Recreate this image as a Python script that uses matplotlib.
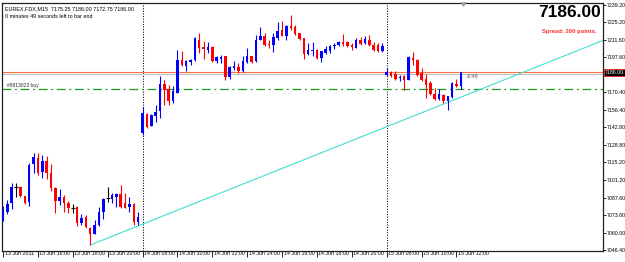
import matplotlib
matplotlib.use('Agg')
import matplotlib.pyplot as plt
import matplotlib.transforms as mtrans

# EUREX.FDX M15, bars 13 Jun 14:00 .. 15 Jun 12:15
opens = [7070.0, 7076.3, 7083.3, 7096.2, 7096.2, 7088.8, 7084.4, 7114.0, 7118.5, 7108.0,
         7116.4, 7106.7, 7094.9, 7084.9, 7088.3, 7083.6, 7079.2, 7079.9, 7067.4, 7072.1,
         7063.4, 7058.9, 7066.0, 7076.5, 7087.0, 7086.3, 7088.3, 7090.2, 7083.1, 7080.4,
         7082.6, 7068.6, 7138.2, 7153.4, 7143.9, 7151.8, 7155.2, 7177.0, 7172.8, 7163.1,
         7170.1, 7195.9, 7191.2, 7193.8, 7195.3, 7211.1, 7205.6, 7203.7, 7205.9, 7194.5,
         7196.4, 7198.5, 7182.3, 7189.3, 7190.1, 7186.7, 7193.8, 7198.5, 7194.5, 7211.6,
         7214.8, 7208.2, 7207.7, 7213.0, 7219.5, 7214.8, 7222.1, 7221.6, 7216.9, 7213.0,
         7200.6, 7202.4, 7203.7, 7197.2, 7201.2, 7202.4, 7206.3, 7207.7, 7209.5, 7209.5,
         7207.7, 7205.1, 7211.6, 7209.0, 7211.1, 7207.7, 7207.7, 7202.4, 7184.1, 7185.9,
         7184.9, 7181.2, 7182.7, 7180.1, 7197.2, 7195.9, 7185.4, 7180.7, 7177.5, 7169.1,
         7165.0, 7168.3, 7163.1, 7166.5, 7177.0, 7175.25]
highs = [7081.0, 7085.7, 7099.1, 7099.3, 7096.7, 7088.8, 7114.8, 7122.9, 7122.7, 7121.1,
         7120.3, 7114.0, 7096.2, 7094.4, 7089.6, 7085.2, 7082.6, 7081.0, 7074.7, 7073.9,
         7064.7, 7070.0, 7080.4, 7087.3, 7096.2, 7091.2, 7091.2, 7097.5, 7091.2, 7088.3,
         7083.1, 7076.5, 7159.1, 7153.9, 7153.1, 7160.5, 7183.3, 7180.1, 7176.2, 7175.4,
         7203.2, 7202.4, 7195.9, 7196.4, 7213.7, 7216.9, 7210.3, 7209.5, 7206.3, 7199.0,
         7199.8, 7199.0, 7190.6, 7195.1, 7193.3, 7199.0, 7205.1, 7199.0, 7215.6, 7221.6,
         7216.9, 7211.1, 7216.9, 7225.2, 7226.0, 7223.4, 7231.3, 7223.4, 7216.9, 7213.0,
         7209.0, 7209.5, 7204.3, 7202.4, 7206.9, 7207.7, 7209.0, 7210.3, 7216.1, 7210.3,
         7209.0, 7213.0, 7213.7, 7214.2, 7215.6, 7209.5, 7209.0, 7209.0, 7189.3, 7187.2,
         7186.7, 7184.1, 7184.1, 7198.5, 7201.6, 7196.4, 7189.3, 7184.9, 7178.8, 7173.6,
         7172.8, 7169.1, 7167.5, 7178.0, 7180.7, 7186.00]
lows = [7069.2, 7074.7, 7078.6, 7088.3, 7088.1, 7082.6, 7081.2, 7106.7, 7105.4, 7103.0,
        7102.2, 7093.0, 7075.7, 7081.8, 7076.5, 7075.2, 7075.2, 7065.2, 7066.0, 7063.4,
        7050.3, 7058.7, 7065.2, 7070.5, 7084.4, 7083.3, 7080.4, 7079.4, 7079.2, 7076.5,
        7066.0, 7066.0, 7136.9, 7142.1, 7143.4, 7147.3, 7150.0, 7160.5, 7160.5, 7161.8,
        7169.7, 7190.6, 7186.7, 7191.9, 7194.5, 7201.2, 7196.4, 7201.2, 7193.8, 7193.3,
        7193.3, 7179.6, 7180.7, 7188.0, 7185.4, 7185.9, 7193.3, 7193.3, 7193.8, 7211.1,
        7206.3, 7205.1, 7201.6, 7211.6, 7214.2, 7211.6, 7219.5, 7215.6, 7211.6, 7196.4,
        7199.8, 7199.0, 7196.4, 7193.8, 7200.6, 7201.2, 7204.3, 7206.3, 7206.3, 7205.9,
        7203.7, 7205.1, 7207.7, 7208.5, 7206.9, 7202.4, 7201.6, 7201.6, 7183.3, 7182.3,
        7180.1, 7178.8, 7171.7, 7180.1, 7191.9, 7183.3, 7178.8, 7165.7, 7168.3, 7164.4,
        7164.4, 7161.8, 7156.5, 7165.7, 7174.4, 7172.75]
closes = [7077.8, 7082.6, 7096.0, 7096.2, 7088.8, 7083.6, 7113.2, 7119.3, 7106.7, 7116.6,
          7106.9, 7094.9, 7084.9, 7087.8, 7083.6, 7079.6, 7079.2, 7067.4, 7071.3, 7064.2,
          7058.7, 7066.0, 7076.5, 7086.3, 7087.0, 7089.6, 7090.4, 7080.4, 7079.6, 7082.6,
          7068.6, 7072.1, 7153.9, 7142.9, 7152.6, 7154.4, 7177.0, 7172.3, 7163.1, 7170.9,
          7195.9, 7191.9, 7194.5, 7195.3, 7213.0, 7205.1, 7204.3, 7205.6, 7194.5, 7197.7,
          7198.0, 7182.3, 7190.1, 7190.6, 7186.7, 7194.5, 7198.5, 7193.8, 7211.6, 7214.8,
          7207.7, 7207.1, 7213.7, 7218.2, 7214.8, 7222.6, 7220.8, 7216.3, 7212.2, 7200.6,
          7203.7, 7203.7, 7197.2, 7202.4, 7204.3, 7206.3, 7207.7, 7209.5, 7208.5, 7206.3,
          7205.6, 7211.6, 7208.5, 7212.2, 7207.7, 7203.7, 7202.4, 7206.9, 7185.9, 7183.3,
          7180.7, 7182.3, 7180.1, 7198.0, 7195.9, 7184.1, 7180.1, 7176.2, 7169.1, 7165.0,
          7169.1, 7163.1, 7167.5, 7177.5, 7174.9, 7186.00]

xtick_bars = [0, 8, 16, 24, 32, 40, 48, 56, 64, 72, 80, 88, 96, 104]
xtick_labels = ['13 Jun 2011', '13 Jun 16:00', '13 Jun 18:00', '13 Jun 20:00',
                '14 Jun 08:00', '14 Jun 10:00', '14 Jun 12:00', '14 Jun 14:00',
                '14 Jun 16:00', '14 Jun 18:00', '14 Jun 20:00', '15 Jun 08:00',
                '15 Jun 10:00', '15 Jun 12:00']
yticks = [7239.20, 7225.20, 7211.60, 7197.60, 7184.00, 7170.40, 7156.40, 7142.80,
          7128.80, 7115.20, 7101.20, 7087.60, 7073.60, 7060.00, 7046.40]

day_separators = [32, 88]
bid_price = 7186.00
ask_line = 7184.40
order_price = 7172.80
trend_bars = [20, 137.6]
trend_prices = [7050.3, 7211.0]

fnt = 'Liberation Sans'

fig = plt.figure(figsize=(6.25, 2.62), dpi=100)
ax = fig.add_axes([2 / 625, 11 / 262, 601 / 625, 248.5 / 262])
ax.set_xlim(-0.23, 137.6)
ax.set_ylim(7045.6, 7240.8)

for i in range(len(opens)):
    o, h, l, c = opens[i], highs[i], lows[i], closes[i]
    if c > o:
        col = '#0000ff'
    elif c < o:
        col = '#ff0000'
    else:
        col = 'black'
    ax.vlines(i, l, h, color=col, lw=0.8, zorder=3)
    if c == o:
        ax.hlines(o, i - 0.45, i + 0.45, color=col, lw=0.8, zorder=3)
    else:
        ax.bar(i, c - o, bottom=o, width=0.58, color=col, lw=0, zorder=3)

for d in day_separators:
    ax.axvline(d, color='black', lw=0.75, ls=(0, (1, 1.5)), zorder=2)

ax.axhline(bid_price, color='#ff7040', lw=0.8, zorder=2)
ax.axhline(ask_line, color='#c0c0c0', lw=0.8, zorder=2)
gl = ax.axhline(order_price, color='#1f9a1f', lw=0.9, zorder=2)
gl.set_dashes([7, 3, 1.5, 3])
ax.plot(trend_bars, trend_prices, color='#40e0d0', lw=0.8, zorder=2)

ax.text(1, order_price + 1.2, '#8813023 buy', fontsize=3.6, family=fnt, color='#303030',
        va='bottom', ha='left')
ax.text(106.3, 7182.5, '\u20390:49', fontsize=3.6, family=fnt, color='#505050',
        va='center', ha='left')
ax.plot([105.6], [7240.0], marker='v', color='#a0a0a0', ms=2.5, clip_on=False, zorder=4)

ax.text(0.005, 0.985, 'EUREX.FDX,M15  7175.25 7186.00 7172.75 7186.00',
        transform=ax.transAxes, fontsize=3.9, family=fnt, va='top', ha='left')
ax.text(0.005, 0.955, '0 minutes 49 seconds left to bar end',
        transform=ax.transAxes, fontsize=3.9, family=fnt, va='top', ha='left')
ax.text(0.996, 0.99, '7186.00', transform=ax.transAxes, fontsize=12.5,
        family=['Liberation Sans Narrow', 'Liberation Sans'], weight='heavy',
        va='top', ha='right')
ax.text(0.99, 0.895, 'Spread: 200 points.', transform=ax.transAxes, fontsize=4.2,
        family=fnt, weight='bold', color='#ff3030', va='top', ha='right')

# y axis on the right, MT4 style; the 7184.00 label sits under the price box
ax.yaxis.tick_right()
ax.set_yticks(yticks)
ax.set_yticklabels(['' if v == 7184.00 else '%.2f' % v for v in yticks])
ax.tick_params(axis='y', direction='out', length=2, width=0.6, pad=1, labelsize=3.8)
for lab in ax.get_yticklabels():
    lab.set_family(fnt)
ax.text(1.003, bid_price, '7186.00', transform=ax.get_yaxis_transform(), fontsize=3.8,
        family=fnt, color='white', va='center', ha='left', zorder=10, clip_on=False,
        bbox=dict(boxstyle='square,pad=0.15', fc='black', ec='#ff2020', lw=0.6))

ax.set_xticks(xtick_bars)
ax.set_xticklabels(xtick_labels, ha='left')
ax.tick_params(axis='x', direction='out', length=4.3, width=0.6, pad=-4.0, labelsize=3.8)
shift = mtrans.ScaledTranslation(1.5 / 100, 0, fig.dpi_scale_trans)
for lab in ax.get_xticklabels():
    lab.set_family(fnt)
    lab.set_transform(lab.get_transform() + shift)

for s in ax.spines.values():
    s.set_color('#202020')
    s.set_linewidth(0.9)

fig.savefig('out.png', dpi=100)
